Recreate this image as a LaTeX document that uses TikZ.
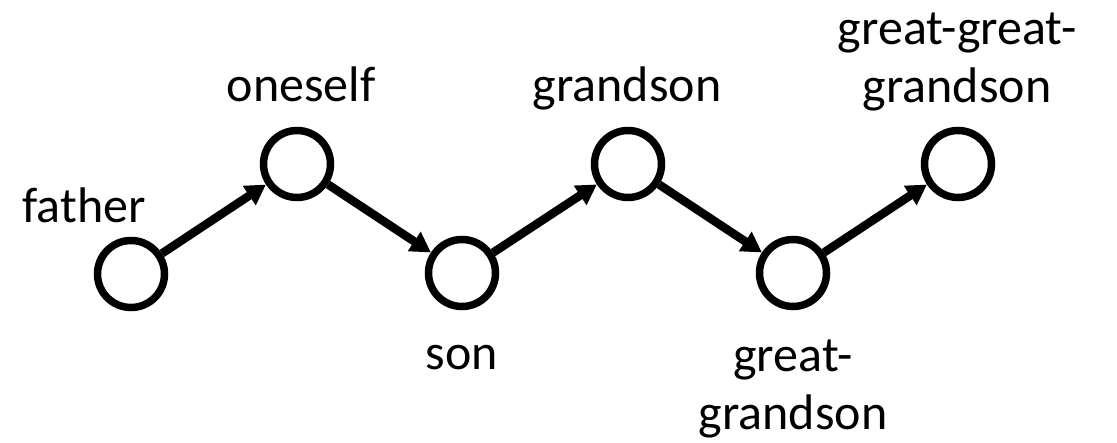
\documentclass[tikz,border=0pt]{standalone}
\usepackage{fontspec}
\setmainfont{Carlito}
\usetikzlibrary{arrows.meta}
\begin{document}
\begin{tikzpicture}[x=1pt,y=-1pt,
  person/.style={circle,draw=black,line width=7.5pt,inner sep=0pt,minimum size=67pt},
  lbl/.style={font=\fontsize{50}{58}\selectfont,inner sep=0pt,align=center},
  link/.style={line width=8.5pt,-{Triangle[length=20pt,width=22pt]}}]
\useasboundingbox (0,0) rectangle (1117,443);
\node[person] (fa) at (131,274) {};
\node[person] (on) at (297,164) {};
\node[person] (so) at (462,273) {};
\node[person] (gs) at (628,164) {};
\node[person] (gg) at (793,273) {};
\node[person] (ggg) at (958,164) {};
\node[lbl,anchor=base] (lfa) at (84,223) {father};
\node[lbl,anchor=base] (lon) at (301,102) {oneself};
\node[lbl,anchor=base] (lgs) at (627,102) {grandson};
\node[lbl,anchor=base] (lso) at (462,370) {son};
\node[lbl,anchor=base] (lgg) at (793,430) {great-\\grandson};
\node[lbl,anchor=base] (lggg) at (957,103) {great-great-\\grandson};
\draw[link] (fa) -- (on);
\draw[link] (on) -- (so);
\draw[link] (so) -- (gs);
\draw[link] (gs) -- (gg);
\draw[link] (gg) -- (ggg);
\end{tikzpicture}
\end{document}
